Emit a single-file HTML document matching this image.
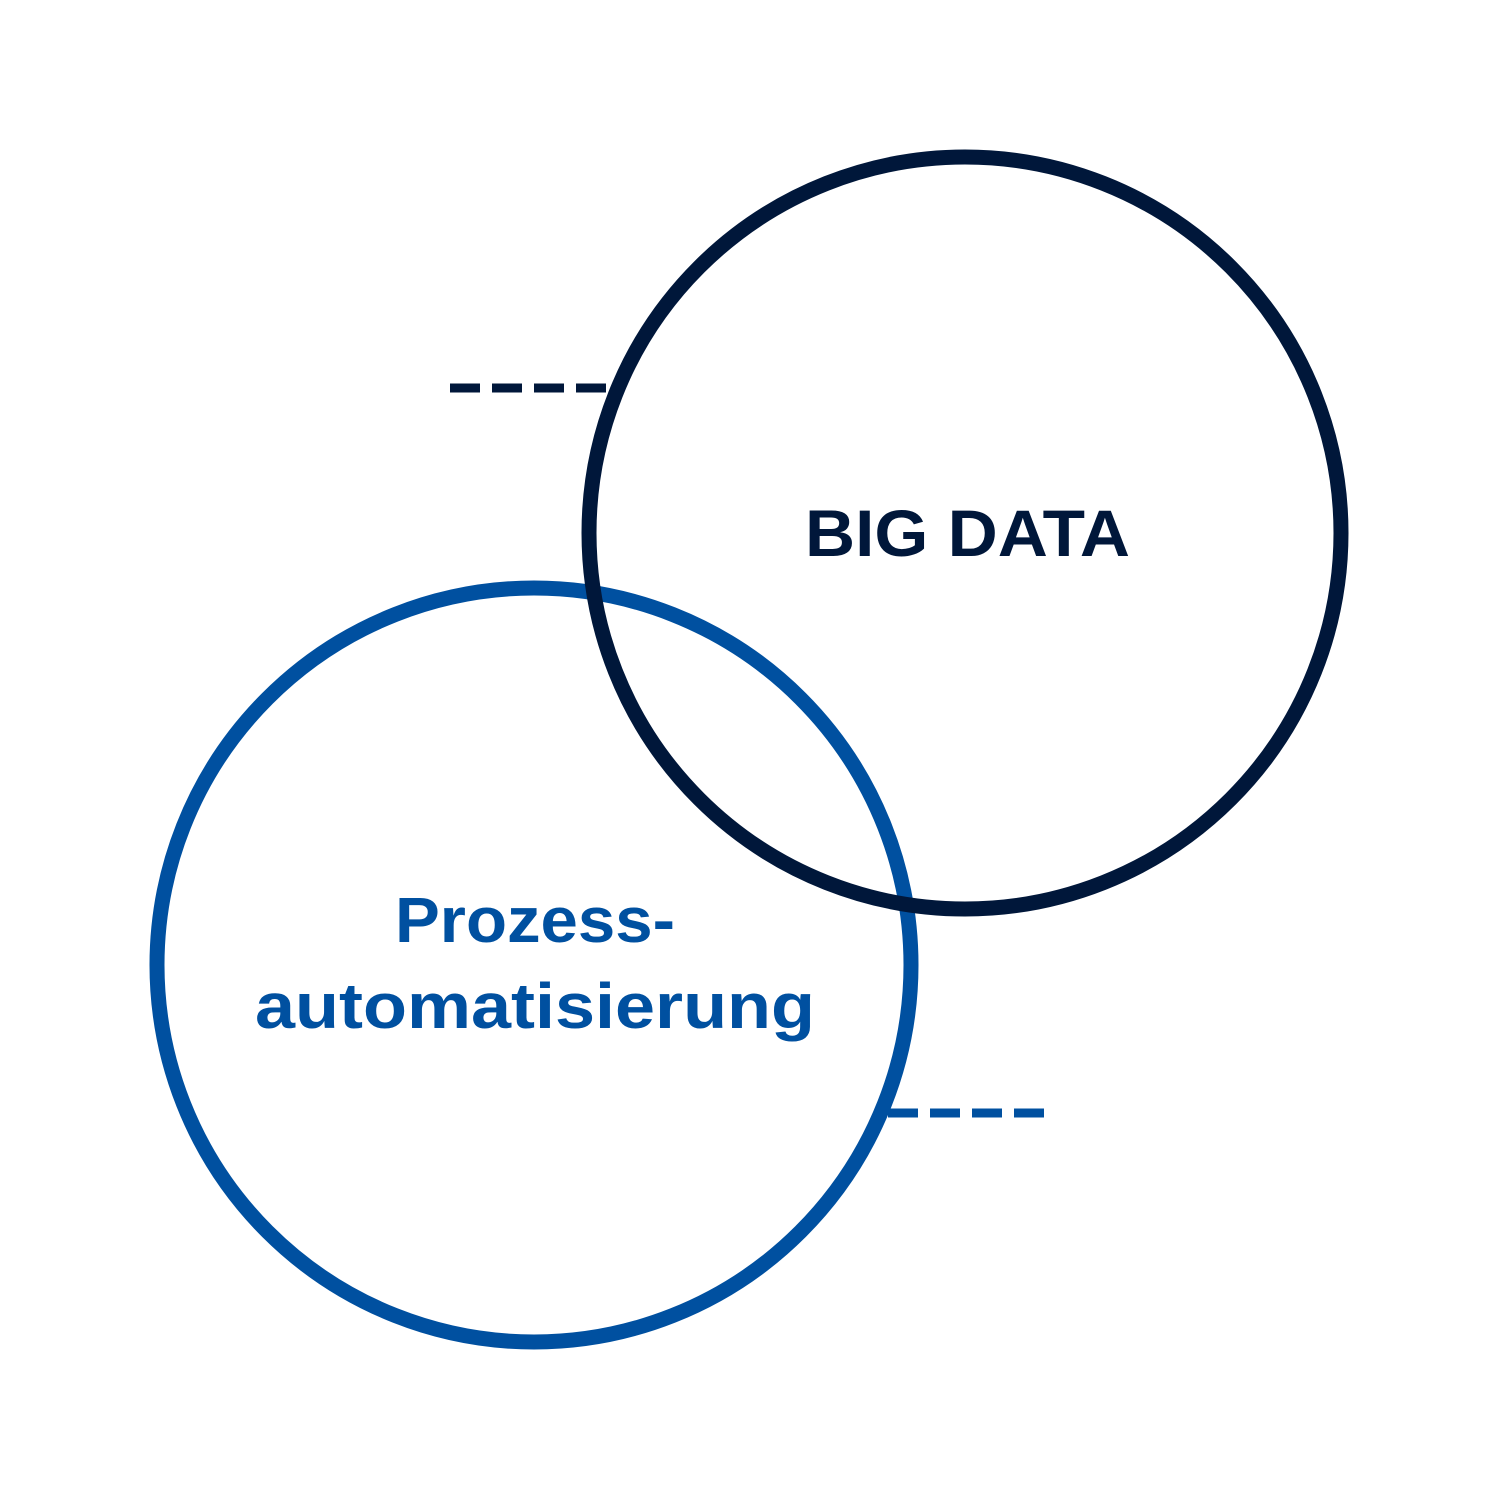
<!DOCTYPE html>
<html><head><meta charset="utf-8"><style>html,body{margin:0;padding:0;background:#fff}svg{display:block}</style></head>
<body>
<svg width="1500" height="1500" viewBox="0 0 1500 1500" xmlns="http://www.w3.org/2000/svg">
<rect width="1500" height="1500" fill="#fff"/>
<line x1="450" y1="388" x2="606" y2="388" stroke="#00173a" stroke-width="9" stroke-dasharray="30,12"/>
<line x1="888" y1="1113" x2="1050" y2="1113" stroke="#0050a0" stroke-width="9" stroke-dasharray="30,12"/>
<circle cx="534" cy="965" r="377" fill="none" stroke="#0050a0" stroke-width="15"/>
<circle cx="965" cy="533" r="376" fill="none" stroke="#00173a" stroke-width="15"/>
<text x="805" y="556" font-family="Liberation Sans, sans-serif" font-weight="bold" font-size="66" fill="#00173a" textLength="325" lengthAdjust="spacingAndGlyphs">BIG DATA</text>
<text x="395" y="942" font-family="Liberation Sans, sans-serif" font-weight="bold" font-size="64" fill="#0050a0" textLength="280" lengthAdjust="spacingAndGlyphs">Prozess-</text>
<text x="255" y="1028" font-family="Liberation Sans, sans-serif" font-weight="bold" font-size="64" fill="#0050a0" textLength="560" lengthAdjust="spacingAndGlyphs">automatisierung</text>
</svg>
</body></html>
